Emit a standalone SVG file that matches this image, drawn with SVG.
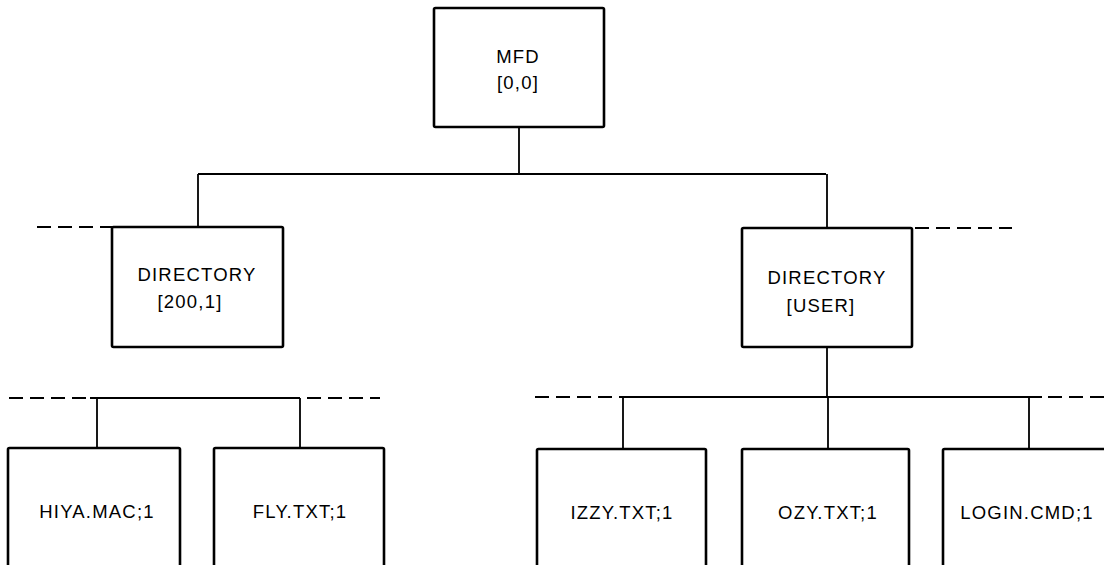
<svg xmlns="http://www.w3.org/2000/svg" width="1104" height="565" viewBox="0 0 1104 565">
<style>
.box{fill:#fff;stroke:#000;stroke-width:2.6}
.ln{stroke:#000;stroke-width:1.8;fill:none}
.dash{stroke:#000;stroke-width:2;fill:none;stroke-dasharray:14 7}
.t{font-family:"Liberation Sans",Arial,sans-serif;font-size:18.5px;letter-spacing:1.2px;text-anchor:middle;fill:#000}
</style>
<rect width="1104" height="565" fill="#fff"/>
<g id="connectors">
<path class="ln" d="M519 127V174M198 174H826M198 174V227M827 174V228"/>
<path class="dash" d="M37 227H112M915 228H1012"/>
<path class="ln" d="M827 347V397M620 397H1042M623 397V449M828 397V449M1029 397V449"/>
<path class="dash" d="M535 397H620M1048 397H1104"/>
<path class="ln" d="M90 398H300M97 398V448M300 398V448"/>
<path class="dash" d="M9 398H90M307 398H380"/>
</g>
<g id="mfd">
<rect class="box" x="434" y="8" width="170" height="119" rx="1.5"/>
<text class="t" x="518" y="63">MFD</text>
<text class="t" x="518" y="89">[0,0]</text>
</g>
<g id="dir-200-1">
<rect class="box" x="112" y="227" width="171" height="120" rx="1.5"/>
<text class="t" x="197" y="281">DIRECTORY</text>
<text class="t" x="190" y="308">[200,1]</text>
</g>
<g id="dir-user">
<rect class="box" x="742" y="228" width="170" height="119" rx="1.5"/>
<text class="t" x="827" y="284">DIRECTORY</text>
<text class="t" x="821" y="312">[USER]</text>
</g>
<g id="hiya">
<rect class="box" x="8" y="448" width="172" height="160" rx="1.5"/>
<text class="t" x="97" y="518">HIYA.MAC;1</text>
</g>
<g id="fly">
<rect class="box" x="214" y="448" width="170" height="160" rx="1.5"/>
<text class="t" x="300" y="518">FLY.TXT;1</text>
</g>
<g id="izzy">
<rect class="box" x="537" y="449" width="169" height="160" rx="1.5"/>
<text class="t" x="622" y="519">IZZY.TXT;1</text>
</g>
<g id="ozy">
<rect class="box" x="742" y="449" width="167" height="160" rx="1.5"/>
<text class="t" x="828" y="519">OZY.TXT;1</text>
</g>
<g id="login">
<rect class="box" x="943" y="449" width="175" height="160" rx="1.5"/>
<text class="t" x="1027" y="519">LOGIN.CMD;1</text>
</g>
</svg>
